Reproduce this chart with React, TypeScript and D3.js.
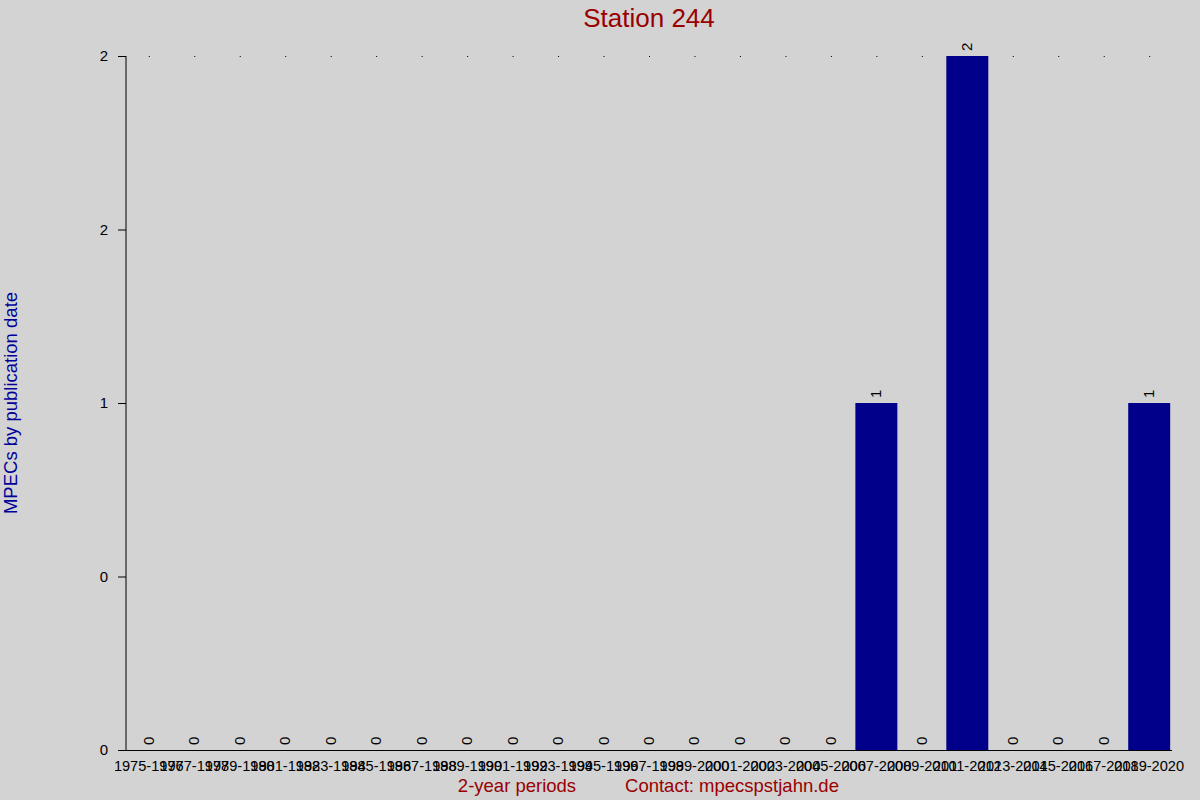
import React from "react";
import * as d3 from "d3";

// 2-year periods and MPEC counts
const periods = [
  "1975-1976", "1977-1978", "1979-1980", "1981-1982", "1983-1984", "1985-1986",
  "1987-1988", "1989-1990", "1991-1992", "1993-1994", "1995-1996", "1997-1998",
  "1999-2000", "2001-2002", "2003-2004", "2005-2006", "2007-2008", "2009-2010",
  "2011-2012", "2013-2014", "2015-2016", "2017-2018", "2019-2020",
];
const counts = [0, 0, 0, 0, 0, 0, 0, 0, 0, 0, 0, 0, 0, 0, 0, 0, 1, 0, 2, 0, 0, 0, 1];

const yTickValues = [0, 0.5, 1, 1.5, 2];
const yTickLabels = ["0", "0", "1", "2", "2"];

const width = 1200;
const height = 800;
const margin = { top: 56, right: 28, bottom: 50, left: 126 };
const font = "Arial, 'Liberation Sans', sans-serif";

function App() {
  const svgRef = React.useRef(null);

  React.useEffect(() => {
    const svg = d3.select(svgRef.current);
    svg.selectAll("*").remove();

    const x = d3
      .scaleBand()
      .domain(periods)
      .range([margin.left, width - margin.right])
      .paddingInner(0.077)
      .paddingOuter(0.04);

    const y = d3
      .scaleLinear()
      .domain([0, 2])
      .range([height - margin.bottom, margin.top]);

    svg.append("rect").attr("width", width).attr("height", height).attr("fill", "#d3d3d3");

    // dotted grid at top
    svg
      .append("g")
      .selectAll("rect")
      .data(periods)
      .join("rect")
      .attr("x", d => x(d) + x.bandwidth() / 2)
      .attr("y", y(2))
      .attr("width", 1)
      .attr("height", 1)
      .attr("fill", "#000");

    // bars
    svg
      .append("g")
      .selectAll("rect")
      .data(periods)
      .join("rect")
      .attr("x", d => x(d))
      .attr("y", (d, i) => y(counts[i]))
      .attr("width", x.bandwidth())
      .attr("height", (d, i) => y(0) - y(counts[i]))
      .attr("fill", "#00008b");

    // value labels
    svg
      .append("g")
      .selectAll("text")
      .data(periods)
      .join("text")
      .attr("transform", (d, i) => `translate(${x(d) + x.bandwidth() / 2 + 5},${y(counts[i]) - 5}) rotate(-90)`)
      .attr("font-family", font)
      .attr("font-size", 15)
      .attr("fill", "#000")
      .text((d, i) => counts[i]);

    // y axis
    const yAxis = svg
      .append("g")
      .attr("transform", `translate(${margin.left},0)`)
      .call(
        d3.axisLeft(y)
          .tickValues(yTickValues)
          .tickFormat((d, i) => yTickLabels[i])
          .tickSize(8)
          .tickPadding(10),
      );
    yAxis.select(".domain").attr("d", `M0,${y(2)}V${y(0)}`).attr("stroke", "#000");
    yAxis.selectAll("text").attr("font-family", font).attr("font-size", 15).attr("fill", "#000");

    // x axis line
    svg
      .append("line")
      .attr("x1", margin.left - 8)
      .attr("x2", width - margin.right)
      .attr("y1", y(0) + 0.5)
      .attr("y2", y(0) + 0.5)
      .attr("stroke", "#000");

    // x labels (overlapping as in the original)
    svg
      .append("g")
      .selectAll("text")
      .data(periods)
      .join("text")
      .attr("x", d => x(d) + x.bandwidth() / 2)
      .attr("y", y(0) + 21)
      .attr("text-anchor", "middle")
      .attr("font-family", font)
      .attr("font-size", 14.6)
      .attr("fill", "#000")
      .text(d => d);

    svg
      .append("text")
      .attr("x", 649)
      .attr("y", 27)
      .attr("text-anchor", "middle")
      .attr("font-family", font)
      .attr("font-size", 26)
      .attr("fill", "#990000")
      .text("Station 244");

    svg
      .append("text")
      .attr("transform", `translate(17,403) rotate(-90)`)
      .attr("text-anchor", "middle")
      .attr("font-family", font)
      .attr("font-size", 18.5)
      .attr("fill", "#000099")
      .text("MPECs by publication date");

    svg
      .append("text")
      .attr("x", 517)
      .attr("y", 792)
      .attr("text-anchor", "middle")
      .attr("font-family", font)
      .attr("font-size", 18.5)
      .attr("fill", "#990000")
      .text("2-year periods");

    svg
      .append("text")
      .attr("x", 732)
      .attr("y", 792)
      .attr("text-anchor", "middle")
      .attr("font-family", font)
      .attr("font-size", 18.5)
      .attr("fill", "#990000")
      .text("Contact: mpecspstjahn.de");
  }, []);

  return (
    <svg
      ref={svgRef}
      width={width}
      height={height}
      style={{ position: "absolute", left: 0, top: 0, display: "block" }}
    />
  );
}

export default App;
